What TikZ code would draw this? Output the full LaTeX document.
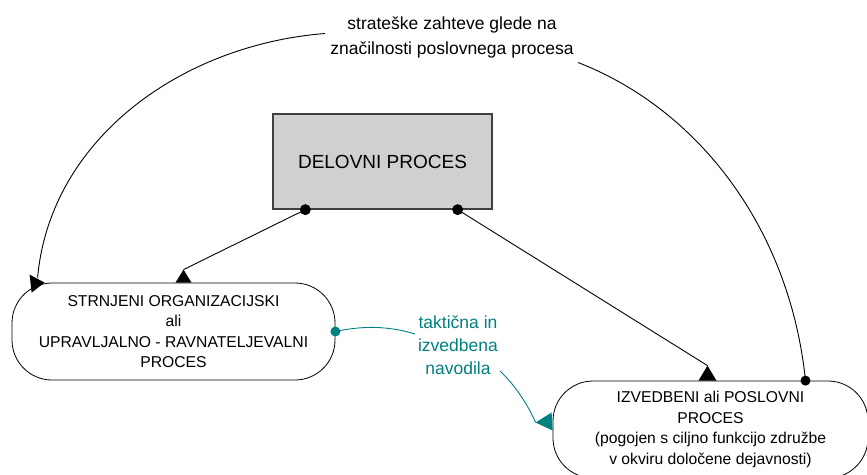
\documentclass[tikz,border=0pt]{standalone}
\usepackage{fontspec}
\setmainfont{Liberation Sans}
\usetikzlibrary{calc}
\definecolor{guideteal}{RGB}{0,128,128}
\definecolor{boxgray}{RGB}{208,208,208}
\definecolor{boxedge}{RGB}{64,64,64}
\begin{document}
\begin{tikzpicture}[x=1pt,y=-1pt,
  procbox/.style={draw=boxedge, line width=1.3pt, fill=boxgray,
    minimum width=219pt, minimum height=95pt, inner sep=0pt,
    font=\fontsize{19}{23}\selectfont},
  stadium/.style={draw, line width=0.8pt, rounded corners=40pt,
    minimum height=97pt, inner sep=0pt, align=center,
    font=\fontsize{15.7}{20.5}\selectfont},
  lbl/.style={inner sep=1pt, align=center},
  link/.style={line width=0.9pt},
  guide/.style={line width=0.9pt, draw=guideteal},
  tip/.style={fill=black},
]
\useasboundingbox (0,0) rectangle (867,474);
\clip (0,0) rectangle (867,474);

% nodes
\node[procbox] (delo) at (382.5,161.5) {DELOVNI PROCES};
\node[stadium, minimum width=323pt] (org) at (173.5,331.5)
  {STRNJENI ORGANIZACIJSKI\\ali\\UPRAVLJALNO - RAVNATELJEVALNI\\PROCES};
\node[stadium, minimum width=315pt] (izv) at (710.5,429.5)
  {IZVEDBENI ali POSLOVNI\\PROCES\\(pogojen s ciljno funkcijo združbe\\v okviru določene dejavnosti)};
\node[lbl, font=\fontsize{17.5}{25}\selectfont] (strat) at (452,37.5)
  {strateške zahteve glede na\\značilnosti poslovnega procesa};
\node[lbl, text=guideteal, font=\fontsize{17.5}{23}\selectfont] (takt) at (458,345)
  {taktična in\\izvedbena\\navodila};

% connection points
\coordinate (d1) at ($(delo.south west)+(33,0)$);
\coordinate (d2) at ($(delo.south east)+(-35,0)$);
\coordinate (a1) at ($(org.north)+(10,-13)$);
\coordinate (a2) at ($(izv.north)+(-3,-15)$);
\coordinate (r0) at ($(izv.north)+(95,0)$);
\coordinate (a3) at ($(org.north west)+(26,-5)$);
\coordinate (a4) at ($(izv.west)+(-17,-7)$);

% delovni proces -> both processes
\draw[link] (d1) -- (a1);
\draw[link] (d2) -- (a2);
\fill[tip] ($(org.north)+(2,0)$) -- ($(org.north)+(18,0)$) -- (a1) -- cycle;
\fill[tip] ($(izv.north)+(-12,0)$) -- ($(izv.north)+(6,0)$) -- (a2) -- cycle;
\fill (d1) circle (5.5);
\fill (d2) circle (5.5);

% strategic requirements loop
\draw[link] (r0) .. controls (790,230) and (700,110) .. ($(strat.center)+(126,25)$);
\draw[link] ($(strat.center)+(-127,-4)$) .. controls (180,45) and (50,140) .. (a3);
\fill[tip] ($(org.north west)+(18,-8)$) -- ($(org.north west)+(33,0)$) -- ($(org.north west)+(20,10)$) -- cycle;
\fill (r0) circle (5);

% tactical guidelines
\draw[guide] (org.east) .. controls (370,324) and (395,328) .. ($(takt.center)+(-43,-11)$);
\draw[guide] ($(takt.center)+(42,26)$) .. controls (515,385) and (528,405) .. (a4);
\fill[guideteal] ($(izv.west)+(-1,-17)$) -- ($(izv.west)+(0,1)$) -- (a4) -- cycle;
\fill[guideteal] (org.east) circle (5);
\end{tikzpicture}
\end{document}
